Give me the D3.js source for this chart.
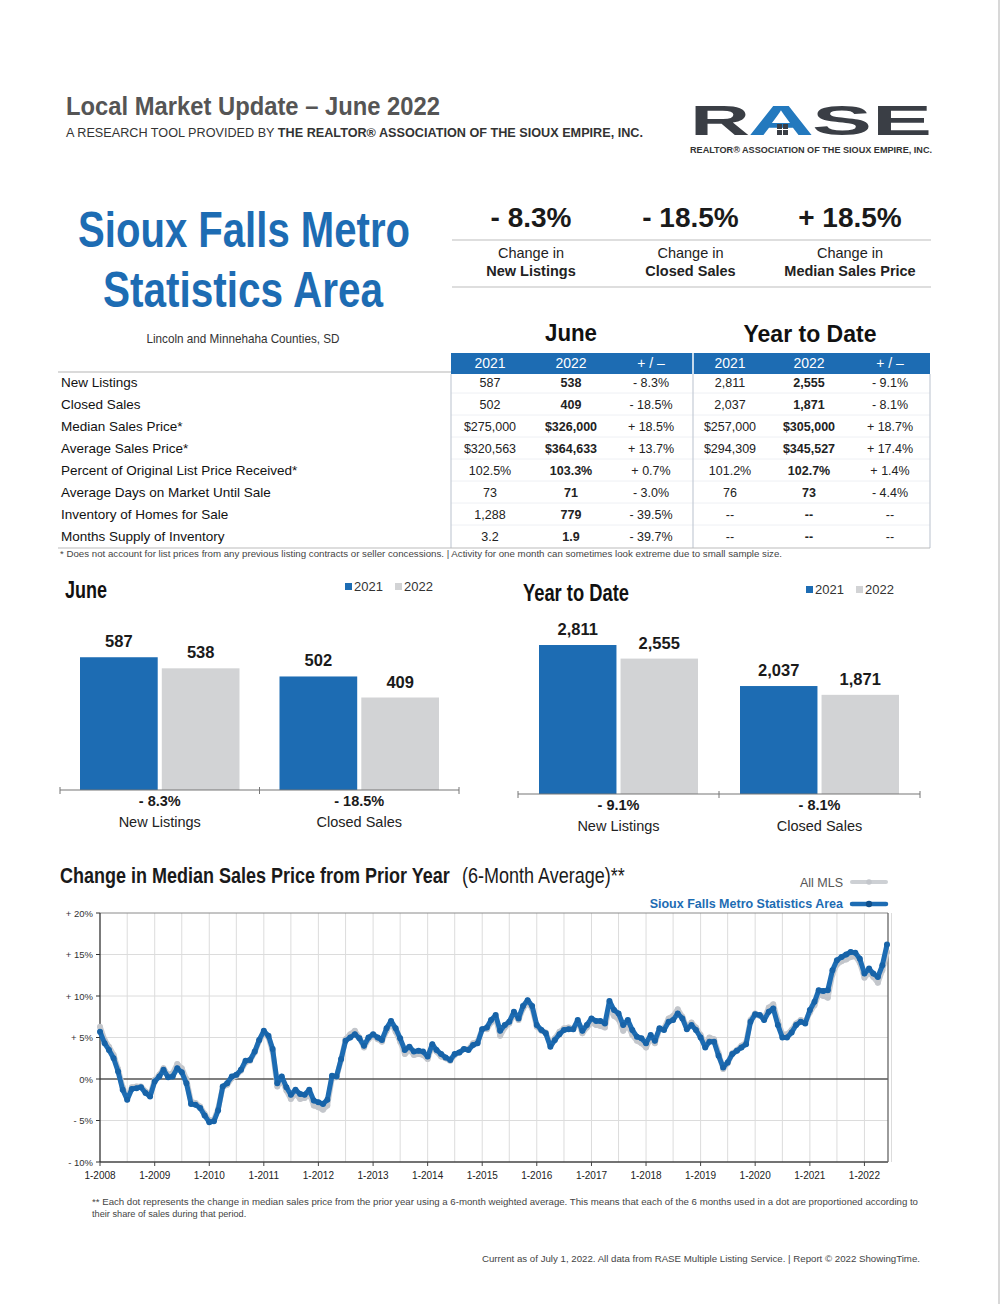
<!DOCTYPE html>
<html><head><meta charset="utf-8">
<script src="https://cdn.jsdelivr.net/npm/d3@7"></script>
<style>
body{margin:0;background:#fff;}
svg{display:block;}
text{font-family:"Liberation Sans",Arial,Helvetica,sans-serif;}
.cond{font-family:"Liberation Sans Narrow","Liberation Sans",Arial,sans-serif;}
</style></head><body>
<svg id="c" width="1008" height="1304"></svg>
<script>
// ---------------- DATA ----------------
const kpiValues = ["- 8.3%", "- 18.5%", "+ 18.5%"];
const kpiLabels = ["New Listings", "Closed Sales", "Median Sales Price"];

const tableRows = ["New Listings", "Closed Sales", "Median Sales Price*", "Average Sales Price*",
  "Percent of Original List Price Received*", "Average Days on Market Until Sale",
  "Inventory of Homes for Sale", "Months Supply of Inventory"];
const tableHeaders = ["2021", "2022", "+ / –", "2021", "2022", "+ / –"];
const june2021 = ["587", "502", "$275,000", "$320,563", "102.5%", "73", "1,288", "3.2"];
const june2022 = ["538", "409", "$326,000", "$364,633", "103.3%", "71", "779", "1.9"];
const junePct = ["- 8.3%", "- 18.5%", "+ 18.5%", "+ 13.7%", "+ 0.7%", "- 3.0%", "- 39.5%", "- 39.7%"];
const ytd2021 = ["2,811", "2,037", "$257,000", "$294,309", "101.2%", "76", "--", "--"];
const ytd2022 = ["2,555", "1,871", "$305,000", "$345,527", "102.7%", "73", "--", "--"];
const ytdPct = ["- 9.1%", "- 8.1%", "+ 18.7%", "+ 17.4%", "+ 1.4%", "- 4.4%", "--", "--"];

const barCategories = ["New Listings", "Closed Sales"];
const barYears = ["2021", "2022"];
const juneValues2021 = [587, 502];
const juneValues2022 = [538, 409];
const juneChanges = ["- 8.3%", "- 18.5%"];
const ytdValues2021 = [2811, 2037];
const ytdValues2022 = [2555, 1871];
const ytdChanges = ["- 9.1%", "- 8.1%"];

// Change in median sales price (6-month avg), monthly 1-2008 .. 6-2022
const siouxFalls = [
  5.7, 4.3, 3.5, 2.5, 0.9, -1.3, -2.5, -1.2, -1.1, -1.0, -1.7, -2.1,
  -0.3, 0.3, 1.1, 0.2, 0.3, 1.3, 0.8, -0.5, -3.0, -3.1, -3.5, -4.4,
  -5.2, -5.1, -3.8, -0.9, -0.5, 0.3, 0.5, 1.1, 2.2, 2.3, 3.3, 4.7,
  5.8, 5.2, 3.6, -0.5, 0.3, -1.0, -1.9, -1.3, -1.8, -1.9, -1.3, -2.6,
  -2.8, -3.0, -2.5, 0.4, 0.3, 2.4, 4.6, 5.0, 5.4, 4.9, 4.0, 5.0,
  5.4, 5.0, 4.7, 6.1, 7.0, 6.1, 4.9, 3.5, 3.9, 3.3, 3.4, 3.3,
  2.7, 4.2, 3.5, 3.0, 2.6, 2.3, 3.0, 3.2, 3.6, 3.5, 4.1, 4.3,
  6.0, 6.2, 7.1, 7.7, 5.8, 6.5, 6.9, 8.1, 7.3, 8.8, 9.5, 8.8,
  6.5, 5.9, 5.5, 3.9, 4.7, 5.4, 5.9, 6.0, 6.0, 7.1, 5.8, 6.5,
  7.3, 7.0, 7.0, 6.7, 9.4, 8.3, 7.9, 6.5, 7.1, 5.9, 5.1, 4.9,
  4.3, 5.3, 4.6, 6.1, 5.9, 6.9, 7.1, 7.9, 7.3, 6.0, 6.5, 5.9,
  5.0, 3.8, 4.5, 4.5, 2.8, 1.4, 2.0, 3.0, 3.4, 3.8, 4.2, 6.9,
  7.8, 7.7, 7.1, 8.1, 8.5, 6.5, 5.0, 5.0, 5.6, 6.5, 6.9, 6.7,
  8.3, 9.3, 10.7, 10.6, 10.7, 13.1, 14.3, 14.7, 15.0, 15.3, 15.2, 14.5,
  12.7, 13.3, 12.7, 12.3, 13.7, 16.2
];
const allMLS = [
  6.3, 4.7, 3.9, 2.9, 1.2, -1.0, -2.2, -1.0, -0.9, -0.9, -1.5, -1.9,
  -0.1, 0.5, 1.3, 0.5, 0.7, 1.8, 1.3, 0.0, -2.7, -2.9, -3.3, -4.2,
  -5.0, -4.9, -3.6, -1.0, -0.7, 0.1, 0.4, 1.0, 2.0, 2.2, 3.2, 4.6,
  5.6, 5.0, 3.3, -0.9, 0.0, -1.4, -2.4, -1.8, -2.4, -2.3, -1.7, -3.2,
  -3.4, -3.7, -3.2, 0.1, 0.2, 2.3, 4.8, 5.4, 5.8, 5.0, 3.8, 4.8,
  5.2, 4.8, 4.5, 5.8, 6.8, 5.7, 4.5, 3.0, 3.5, 2.9, 3.0, 2.9,
  2.4, 4.0, 3.3, 2.7, 2.5, 2.2, 2.9, 3.2, 3.6, 3.6, 4.3, 4.5,
  6.0, 6.0, 6.8, 7.4, 5.2, 6.2, 6.7, 7.8, 7.1, 8.5, 9.2, 8.5,
  6.3, 5.8, 5.6, 4.2, 4.9, 5.7, 6.1, 6.2, 6.0, 6.9, 5.5, 6.2,
  6.8, 6.5, 6.4, 6.2, 8.7, 7.6, 7.2, 5.8, 6.5, 5.3, 4.6, 4.3,
  3.8, 4.9, 4.3, 6.0, 6.1, 7.3, 7.6, 8.4, 7.5, 6.2, 6.8, 6.2,
  5.3, 4.1, 5.0, 4.8, 3.1, 1.2, 1.9, 3.1, 3.5, 4.0, 4.4, 7.1,
  7.9, 7.6, 7.3, 8.6, 9.0, 7.0, 5.4, 5.4, 5.9, 6.7, 7.1, 6.9,
  8.0, 8.9, 10.2, 10.0, 9.8, 12.6, 13.8, 14.2, 14.4, 14.7, 14.8, 14.0,
  12.2, 12.8, 12.3, 11.6, 13.1, 15.3
];
const yTicks = [20, 15, 10, 5, 0, -5, -10];
const yTickLabels = ["+ 20%", "+ 15%", "+ 10%", "+ 5%", "0%", "- 5%", "- 10%"];
const xTickLabels = ["1-2008","1-2009","1-2010","1-2011","1-2012","1-2013","1-2014","1-2015",
  "1-2016","1-2017","1-2018","1-2019","1-2020","1-2021","1-2022"];

// ---------------- STYLE ----------------
const BLUE = "#1d6cb3";
const GRAYBAR = "#d2d3d5";
const DARK = "#222";
const svg = d3.select("#c");

function txt(g, x, y, s, opts = {}) {
  const t = g.append("text").attr("x", x).attr("y", y).text(s)
    .attr("font-size", opts.size || 13)
    .attr("fill", opts.fill || DARK)
    .attr("font-weight", opts.weight || "normal")
    .attr("text-anchor", opts.anchor || "start");
  if (opts.cls) t.attr("class", opts.cls);
  if (opts.len) t.attr("textLength", opts.len).attr("lengthAdjust", "spacingAndGlyphs");
  return t;
}

// scan edge
svg.append("line").attr("x1", 999).attr("x2", 999).attr("y1", 0).attr("y2", 1304)
  .attr("stroke", "#d8d8d8").attr("stroke-width", 2);

// ---------------- HEADER ----------------
txt(svg, 66, 115, "Local Market Update – June 2022", {size: 26, weight: "bold", fill: "#555", cls: "cond", len: 374});
const sub = svg.append("text").attr("x", 66).attr("y", 137).attr("font-size", 12.5).attr("fill", "#333")
  .attr("textLength", 577).attr("lengthAdjust", "spacingAndGlyphs");
sub.append("tspan").text("A RESEARCH TOOL PROVIDED BY ");
sub.append("tspan").attr("font-weight", "bold").text("THE REALTOR® ASSOCIATION OF THE SIOUX EMPIRE, INC.");

// logo
const logo = svg.append("g");
txt(logo, 690, 135, "R", {size: 42, weight: "bold", fill: "#3a3e45", len: 60});
txt(logo, 748, 135, "A", {size: 42, weight: "bold", fill: "#2379be", len: 66});
txt(logo, 812, 135, "SE", {size: 42, weight: "bold", fill: "#3a3e45", len: 120});
[[777,124],[783,124],[777,130],[783,130]].forEach(d =>
  logo.append("rect").attr("x", d[0]).attr("y", d[1]).attr("width", 5).attr("height", 5).attr("fill", "#3a3e45"));
txt(logo, 690, 153, "REALTOR® ASSOCIATION OF THE SIOUX EMPIRE, INC.", {size: 8.5, weight: "bold", fill: "#333", cls: "cond", len: 242});

// big title
txt(svg, 244, 247, "Sioux Falls Metro", {size: 50, weight: "bold", fill: BLUE, cls: "cond", anchor: "middle", len: 332});
txt(svg, 243, 307, "Statistics Area", {size: 50, weight: "bold", fill: BLUE, cls: "cond", anchor: "middle", len: 280});
txt(svg, 243, 343, "Lincoln and Minnehaha Counties, SD", {size: 13, fill: "#333", cls: "cond", anchor: "middle", len: 193});

// KPIs
const kpiX = d3.scalePoint().domain(kpiLabels).range([531, 850]);
kpiLabels.forEach((k, i) => {
  const cx = kpiX(k);
  txt(svg, cx, 227, kpiValues[i], {size: 28, weight: "bold", anchor: "middle", fill: "#1a1a1a"});
  txt(svg, cx, 258, "Change in", {size: 14.5, anchor: "middle", fill: "#222"});
  txt(svg, cx, 276, k, {size: 14.5, weight: "bold", anchor: "middle", fill: "#222"});
});
[240, 287].forEach(y => svg.append("line").attr("x1", 452).attr("x2", 931).attr("y1", y).attr("y2", y)
  .attr("stroke", "#bdbdbd").attr("stroke-width", 1.2));

// ---------------- TABLE ----------------
txt(svg, 571, 341, "June", {size: 24, weight: "bold", anchor: "middle", fill: "#111", len: 52});
txt(svg, 810, 342, "Year to Date", {size: 24, weight: "bold", anchor: "middle", fill: "#111", len: 133});
svg.append("rect").attr("x", 451).attr("y", 353).attr("width", 479).attr("height", 21).attr("fill", BLUE);
svg.append("line").attr("x1", 693).attr("x2", 693).attr("y1", 353).attr("y2", 374).attr("stroke", "#fff").attr("stroke-width", 1.5);
const colX = [490, 571, 651, 730, 809, 890];
tableHeaders.forEach((h, i) => txt(svg, colX[i], 368, h, {size: 14, fill: "#fff", anchor: "middle", cls: "cond"}));
svg.append("line").attr("x1", 58).attr("x2", 451).attr("y1", 372).attr("y2", 372).attr("stroke", "#b5b5b5");

const rowY = d3.scaleBand().domain(tableRows).range([371, 547]);
tableRows.forEach((r, i) => {
  const y = rowY(r) + rowY.bandwidth() / 2 + 5;
  txt(svg, 61, y, r, {size: 13.5, fill: "#111"});
  const vals = [june2021[i], june2022[i], junePct[i], ytd2021[i], ytd2022[i], ytdPct[i]];
  vals.forEach((v, j) => txt(svg, colX[j], y, v, {size: 12.5, anchor: "middle", fill: "#222",
    weight: (j === 1 || j === 4) ? "bold" : "normal"}));
  if (i < tableRows.length - 1) {
    svg.append("line").attr("x1", 451).attr("x2", 930).attr("y1", rowY(r) + rowY.bandwidth())
      .attr("y2", rowY(r) + rowY.bandwidth()).attr("stroke", "#eef0f4");
  }
});
[451, 693, 930].forEach(x => svg.append("line").attr("x1", x).attr("x2", x).attr("y1", 374).attr("y2", 548)
  .attr("stroke", "#c5ccd6").attr("stroke-width", 1.2));
svg.append("line").attr("x1", 58).attr("x2", 930).attr("y1", 548).attr("y2", 548).attr("stroke", "#bbb");
txt(svg, 60, 557, "* Does not account for list prices from any previous listing contracts or seller concessions.  |  Activity for one month can sometimes look extreme due to small sample size.",
  {size: 9, fill: "#444", len: 722});

// ---------------- BAR CHARTS ----------------
function barChart(o) {
  const g = svg.append("g");
  txt(g, o.titleX, o.titleY, o.title, {size: 23, weight: "bold", fill: "#111", cls: "cond", len: o.titleLen});
  const lg = g.append("g");
  barYears.forEach((yr, i) => {
    const lx = o.legX + i * 50;
    lg.append("rect").attr("x", lx).attr("y", o.legY - 8).attr("width", 7).attr("height", 7)
      .attr("fill", i === 0 ? BLUE : GRAYBAR);
    txt(lg, lx + 9, o.legY, yr, {size: 13, fill: "#333"});
  });
  const x0 = d3.scaleBand().domain(barCategories).range([o.left, o.right]);
  const x1 = d3.scaleBand().domain(barYears).range([o.innerPad, x0.bandwidth() - o.innerPad]).paddingInner(0.05);
  const y = d3.scaleLinear().domain([0, o.max]).range([o.base, o.top]);
  barCategories.forEach((c, i) => {
    const vals = [o.v2021[i], o.v2022[i]];
    barYears.forEach((yr, j) => {
      const bx = x0(c) + x1(yr);
      g.append("rect").attr("x", bx).attr("y", y(vals[j])).attr("width", x1.bandwidth())
        .attr("height", y(0) - y(vals[j])).attr("fill", j === 0 ? BLUE : GRAYBAR);
      txt(g, bx + x1.bandwidth() / 2, y(vals[j]) - 10, d3.format(",")(vals[j]),
        {size: 16.5, weight: "bold", anchor: "middle", fill: "#1a1a1a"});
    });
    const cx = x0(c) + x0.bandwidth() / 2;
    txt(g, cx, o.base + 16, o.changes[i], {size: 14.5, weight: "bold", anchor: "middle", fill: "#1a1a1a"});
    txt(g, cx, o.base + 37, c, {size: 14.5, anchor: "middle", fill: "#222"});
  });
  g.append("line").attr("x1", o.left).attr("x2", o.right).attr("y1", o.base).attr("y2", o.base)
    .attr("stroke", "#777").attr("stroke-width", 1.2);
  [o.left, x0(barCategories[1]), o.right].forEach(tx =>
    g.append("line").attr("x1", tx).attr("x2", tx).attr("y1", o.base - 3).attr("y2", o.base + 4)
      .attr("stroke", "#777"));
}
barChart({title: "June", titleX: 65, titleY: 598, titleLen: 42, legX: 345, legY: 591,
  left: 60, right: 459, base: 790, top: 643, max: 650, innerPad: 20,
  v2021: juneValues2021, v2022: juneValues2022, changes: juneChanges});
barChart({title: "Year to Date", titleX: 523, titleY: 601, titleLen: 106, legX: 806, legY: 594,
  left: 518, right: 920, base: 794, top: 635, max: 3000, innerPad: 21,
  v2021: ytdValues2021, v2022: ytdValues2022, changes: ytdChanges});

// ---------------- LINE CHART ----------------
// title: narrow glyphs via vertical stretch so the natural width matches the condensed original
const ltitle = svg.append("g").attr("transform", "translate(60,883) scale(1,1.2)");
txt(ltitle, 0, 0, "Change in Median Sales Price from Prior Year", {size: 18, weight: "bold", fill: "#1a1a1a", cls: "cond"});
const ltitle2 = svg.append("g").attr("transform", "translate(462,883) scale(1,1.2)");
txt(ltitle2, 0, 0, "(6-Month Average)**", {size: 18, fill: "#1a1a1a", cls: "cond"});

txt(svg, 843, 887, "All MLS", {size: 12.5, anchor: "end", fill: "#555"});
svg.append("line").attr("x1", 852).attr("x2", 886).attr("y1", 882).attr("y2", 882).attr("stroke", "#cdd0d4").attr("stroke-width", 4).attr("stroke-linecap", "round");
svg.append("circle").attr("cx", 869).attr("cy", 882).attr("r", 2.8).attr("fill", "#c3c6cb");
txt(svg, 843, 908, "Sioux Falls Metro Statistics Area", {size: 12.5, weight: "bold", anchor: "end", fill: BLUE});
svg.append("line").attr("x1", 852).attr("x2", 886).attr("y1", 904).attr("y2", 904).attr("stroke", BLUE).attr("stroke-width", 4.5).attr("stroke-linecap", "round");
svg.append("circle").attr("cx", 869).attr("cy", 904).attr("r", 3.2).attr("fill", "#10508c");

const months = d3.timeMonth.range(new Date(2008, 0, 1), new Date(2022, 6, 1));
const xs = d3.scaleTime().domain([months[0], months[months.length - 1]]).range([100, 887]);
const ys = d3.scaleLinear().domain([-10, 20]).range([1162, 913]);
const plotL = 100, plotR = 888;

const grid = svg.append("g");
d3.timeMonth.every(6).range(new Date(2008, 0, 1), new Date(2022, 6, 2)).forEach(d => {
  if (+d === +months[0]) return;
  grid.append("line").attr("x1", xs(d)).attr("x2", xs(d)).attr("y1", ys(20)).attr("y2", ys(-10))
    .attr("stroke", "#dcdcdc").attr("stroke-width", 1);
});
yTicks.forEach(t => {
  if (t === 0 || t === -10) return;
  grid.append("line").attr("x1", plotL).attr("x2", plotR).attr("y1", ys(t)).attr("y2", ys(t))
    .attr("stroke", t === 20 ? "#8a8a8a" : "#dcdcdc").attr("stroke-width", 1);
});
grid.append("line").attr("x1", plotL).attr("x2", plotR).attr("y1", ys(0)).attr("y2", ys(0))
  .attr("stroke", "#555").attr("stroke-width", 1.6);
grid.append("line").attr("x1", plotL).attr("x2", plotR).attr("y1", ys(-10)).attr("y2", ys(-10))
  .attr("stroke", "#444").attr("stroke-width", 1.3);
grid.append("line").attr("x1", plotR).attr("x2", plotR).attr("y1", ys(20)).attr("y2", ys(-10))
  .attr("stroke", "#666").attr("stroke-width", 1.3);
grid.append("line").attr("x1", plotL).attr("x2", plotL).attr("y1", ys(20)).attr("y2", ys(-10))
  .attr("stroke", "#333").attr("stroke-width", 1.3);

yTicks.forEach((t, i) => {
  grid.append("line").attr("x1", plotL - 4).attr("x2", plotL).attr("y1", ys(t)).attr("y2", ys(t)).attr("stroke", "#333");
  txt(svg, 93, ys(t) + 3.5, yTickLabels[i], {size: 9.5, anchor: "end", fill: "#333"});
});
xTickLabels.forEach((lab, i) => {
  const d = new Date(2008 + i, 0, 1);
  grid.append("line").attr("x1", xs(d)).attr("x2", xs(d)).attr("y1", ys(-10)).attr("y2", ys(-10) + 4).attr("stroke", "#444");
  txt(svg, xs(d), 1179, lab, {size: 10, anchor: "middle", fill: "#222"});
});

const line = d3.line().x((d, i) => xs(months[i])).y(d => ys(d)).curve(d3.curveLinear);
svg.append("path").datum(allMLS).attr("d", line).attr("fill", "none").attr("stroke", "#c9ccd1")
  .attr("stroke-width", 5.5).attr("stroke-linejoin", "round");
svg.append("g").selectAll("circle").data(allMLS).join("circle")
  .attr("cx", (d, i) => xs(months[i])).attr("cy", d => ys(d)).attr("r", 3).attr("fill", "#c3c6cb");
svg.append("path").datum(siouxFalls).attr("d", line).attr("fill", "none").attr("stroke", BLUE)
  .attr("stroke-width", 5).attr("stroke-linejoin", "round");
svg.append("g").selectAll("circle").data(siouxFalls).join("circle")
  .attr("cx", (d, i) => xs(months[i])).attr("cy", d => ys(d)).attr("r", 3).attr("fill", "#1763a8");

txt(svg, 92, 1205, "** Each dot represents the change in median sales price from the prior year using a 6-month weighted average. This means that each of the 6 months used in a dot are proportioned according to",
  {size: 9.2, fill: "#444", len: 826});
txt(svg, 92, 1217, "their share of sales during that period.", {size: 9.2, fill: "#444"});
txt(svg, 920, 1262, "Current as of July 1, 2022. All data from RASE Multiple Listing Service.  |  Report © 2022 ShowingTime.",
  {size: 9.5, anchor: "end", fill: "#444", len: 438});
</script>
</body></html>
